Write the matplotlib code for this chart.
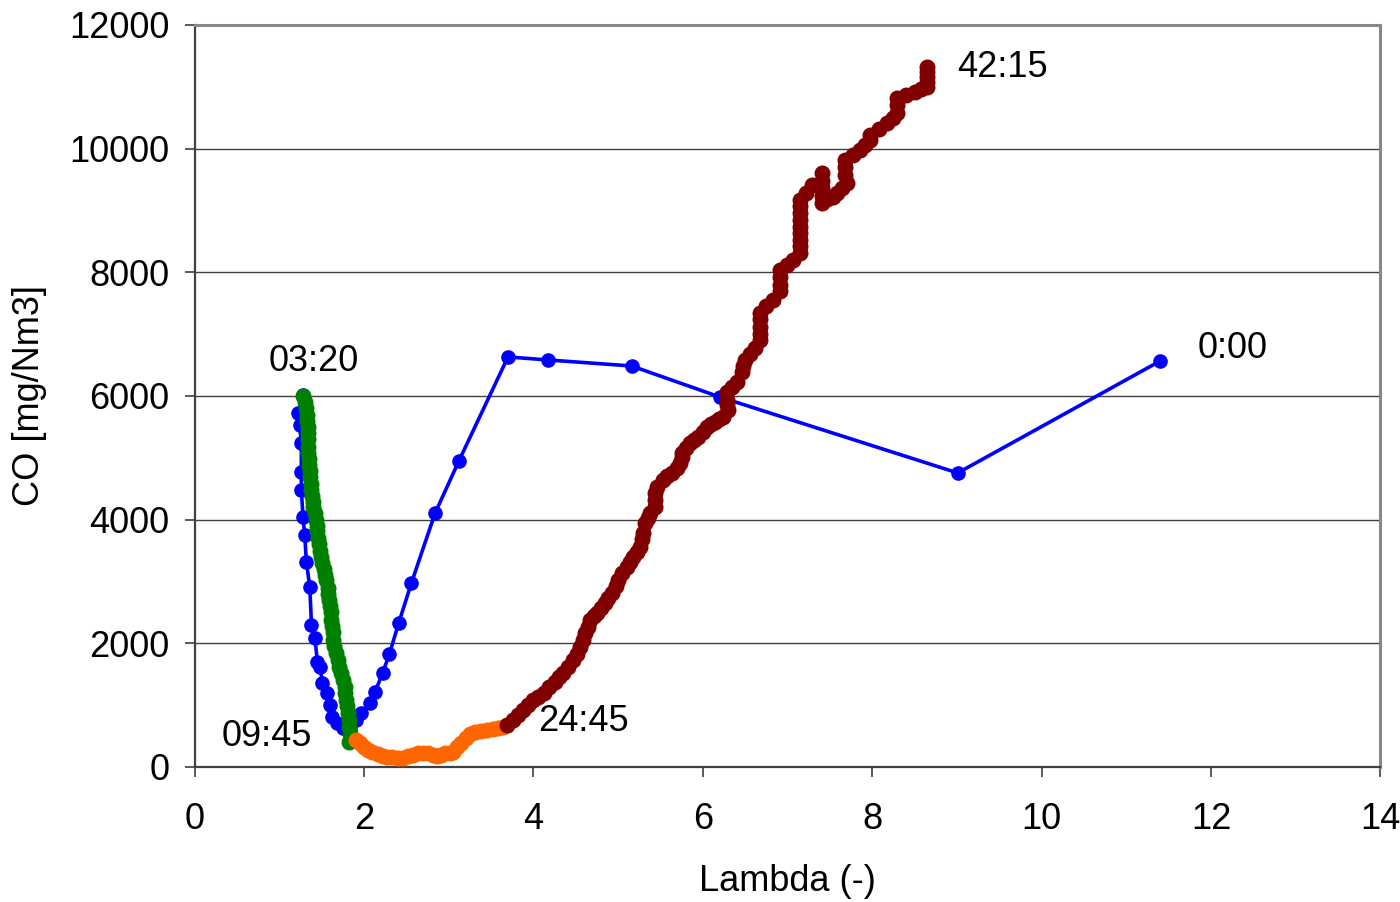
import numpy as np
import matplotlib.pyplot as plt

plt.rcParams['font.family'] = ['Liberation Sans', 'DejaVu Sans']

# blue: 0:00 -> 03:20
blue_x = [11.40, 9.01, 6.20, 5.16, 4.17, 3.70, 3.12, 2.84, 2.56, 2.41, 2.30, 2.22, 2.13, 2.07,
          1.97, 1.91, 1.83, 1.75, 1.68, 1.62, 1.60, 1.56, 1.51, 1.48, 1.45, 1.42, 1.38, 1.36,
          1.32, 1.30, 1.28, 1.26, 1.26, 1.26, 1.24, 1.22, 1.28]
blue_y = [6566, 4755, 5984, 6485, 6583, 6631, 4949, 4108, 2976, 2329, 1828, 1520, 1213, 1035,
          873, 760, 598, 631, 712, 809, 1003, 1197, 1359, 1617, 1698, 2086, 2297, 2911,
          3316, 3752, 4043, 4480, 4771, 5240, 5531, 5725, 6016]

# green: 03:20 -> 09:45
green_x = [1.28, 1.30, 1.32, 1.33, 1.33, 1.34, 1.34, 1.34, 1.34, 1.34, 1.35, 1.35, 1.36, 1.36,
           1.37, 1.38, 1.39, 1.40, 1.40, 1.42, 1.43, 1.44, 1.45, 1.46, 1.47, 1.48, 1.49, 1.51,
           1.53, 1.54, 1.55, 1.57, 1.58, 1.59, 1.60, 1.61, 1.61, 1.62, 1.63, 1.63, 1.65, 1.67,
           1.69, 1.71, 1.73, 1.75, 1.77, 1.78, 1.79, 1.80, 1.81, 1.82, 1.82, 1.83, 1.82]
green_y = [6000, 5900, 5800, 5700, 5600, 5500, 5400, 5300, 5180, 5080, 4980, 4880, 4780, 4690,
           4580, 4480, 4380, 4290, 4200, 4100, 4000, 3900, 3820, 3700, 3600, 3500, 3400, 3300,
           3200, 3100, 3020, 2900, 2800, 2700, 2600, 2500, 2380, 2280, 2180, 2050, 1950, 1850,
           1730, 1620, 1520, 1410, 1300, 1200, 1080, 980, 870, 760, 650, 540, 400]

# orange: 09:45 -> 24:45
orange_x = [1.90, 1.95, 2.00, 2.05, 2.10, 2.16, 2.22, 2.27, 2.33, 2.40, 2.46, 2.52, 2.58, 2.64,
            2.70, 2.75, 2.81, 2.86, 2.91, 2.96, 3.01, 3.05, 3.10, 3.15, 3.20, 3.25, 3.31, 3.38,
            3.45, 3.52, 3.58, 3.64, 3.69]
orange_y = [440, 390, 330, 280, 240, 210, 180, 165, 160, 150, 150, 170, 200, 220,
            230, 220, 200, 170, 190, 220, 230, 250, 320, 390, 470, 540, 570, 580,
            600, 610, 630, 650, 680]

# dark red: 24:45 -> 42:15
red_x = [3.69, 3.76, 3.82, 3.88, 3.94, 4.00, 4.06, 4.12, 4.19, 4.25, 4.30, 4.35, 4.41, 4.47,
         4.51, 4.55, 4.58, 4.61, 4.64, 4.67, 4.71, 4.75, 4.80, 4.84, 4.88, 4.93, 4.97, 5.00,
         5.05, 5.10, 5.14, 5.18, 5.22, 5.26, 5.28, 5.29, 5.32, 5.35, 5.38, 5.43, 5.43, 5.43,
         5.46, 5.53, 5.58, 5.64, 5.69, 5.73, 5.75, 5.75, 5.80, 5.85, 5.90, 5.94, 6.00, 6.05,
         6.10, 6.14, 6.19, 6.24, 6.30, 6.28, 6.28, 6.28, 6.34, 6.40, 6.46, 6.48, 6.50, 6.56,
         6.62, 6.68, 6.68, 6.68, 6.68, 6.68, 6.75, 6.83, 6.91, 6.91, 6.91, 6.91, 6.99, 7.07,
         7.15, 7.15, 7.15, 7.15, 7.15, 7.15, 7.15, 7.15, 7.15, 7.22, 7.29, 7.41, 7.41, 7.41,
         7.41, 7.41, 7.47, 7.54, 7.58, 7.64, 7.70, 7.68, 7.68, 7.68, 7.77, 7.86, 7.92, 7.97,
         7.97, 8.08, 8.18, 8.24, 8.29, 8.29, 8.29, 8.40, 8.51, 8.58, 8.65, 8.65, 8.65, 8.65, 8.65]
red_y = [680, 760, 840, 920, 1000, 1080, 1130, 1200, 1290, 1380, 1450, 1520, 1620, 1730,
         1830, 1940, 2050, 2170, 2270, 2380, 2440, 2490, 2570, 2650, 2730, 2810, 2920, 3020,
         3130, 3240, 3310, 3400, 3480, 3560, 3680, 3790, 3950, 4030, 4110, 4200, 4320, 4430,
         4530, 4640, 4700, 4760, 4840, 4920, 5010, 5080, 5160, 5240, 5290, 5340, 5420, 5500,
         5540, 5580, 5620, 5660, 5770, 5850, 5940, 6060, 6140, 6230, 6390, 6480, 6580, 6680,
         6780, 6900, 7000, 7120, 7240, 7340, 7450, 7550, 7700, 7800, 7920, 8040, 8120, 8200,
         8310, 8420, 8530, 8640, 8740, 8850, 8960, 9070, 9170, 9290, 9410, 9610, 9480, 9360,
         9240, 9120, 9180, 9220, 9280, 9360, 9450, 9580, 9700, 9820, 9900, 9980, 10060, 10140,
         10220, 10320, 10420, 10500, 10580, 10700, 10820, 10870, 10920, 10960, 11000, 11080, 11160, 11240, 11320]

labels = ['0:00', '03:20', '09:45', '24:45', '42:15']
label_x = [11.84, 1.41, 0.85, 4.06, 9.0]
label_y = [6760, 6550, 500, 730, 11320]
label_ha = ['left', 'center', 'center', 'left', 'left']

fig = plt.figure(figsize=(14, 9.02), dpi=100)
ax = fig.add_axes([0.139, 0.1497, 0.847, 0.8226])

ax.plot(blue_x, blue_y, color='#0000ff', lw=2.6, marker='o', ms=9.5, zorder=3)
ax.plot(green_x, green_y, color='#008000', lw=2.6, marker='o', ms=10.5, zorder=4)
ax.plot(orange_x, orange_y, color='#ff6600', lw=2.6, marker='o', ms=10.5, zorder=4)
ax.plot(red_x, red_y, color='#800000', lw=2.6, marker='o', ms=10.5, zorder=4)

for t, x, y, ha in zip(labels, label_x, label_y, label_ha):
    ax.text(x, y, t, fontsize=26, ha=ha, va='center')

ax.set_xlim(0, 14)
ax.set_ylim(0, 12000)
ax.set_xticks(np.arange(0, 15, 2))
ax.set_yticks(np.arange(0, 12001, 2000))
ax.yaxis.grid(True, color='#404040', lw=1)
ax.set_axisbelow(True)
ax.tick_params(labelsize=26, length=7, width=1.2, color='#404040')
ax.tick_params(axis='x', pad=18)
ax.tick_params(axis='y', pad=11)

for s in ['left', 'bottom']:
    ax.spines[s].set_color('#404040')
    ax.spines[s].set_linewidth(1.6)
for s in ['top', 'right']:
    ax.spines[s].set_color('#888888')
    ax.spines[s].set_linewidth(2.2)

ax.set_xlabel('Lambda (-)', fontsize=26, labelpad=20)
ax.set_ylabel('CO [mg/Nm3]', fontsize=26, labelpad=16)

fig.savefig('out.png', dpi=100)
